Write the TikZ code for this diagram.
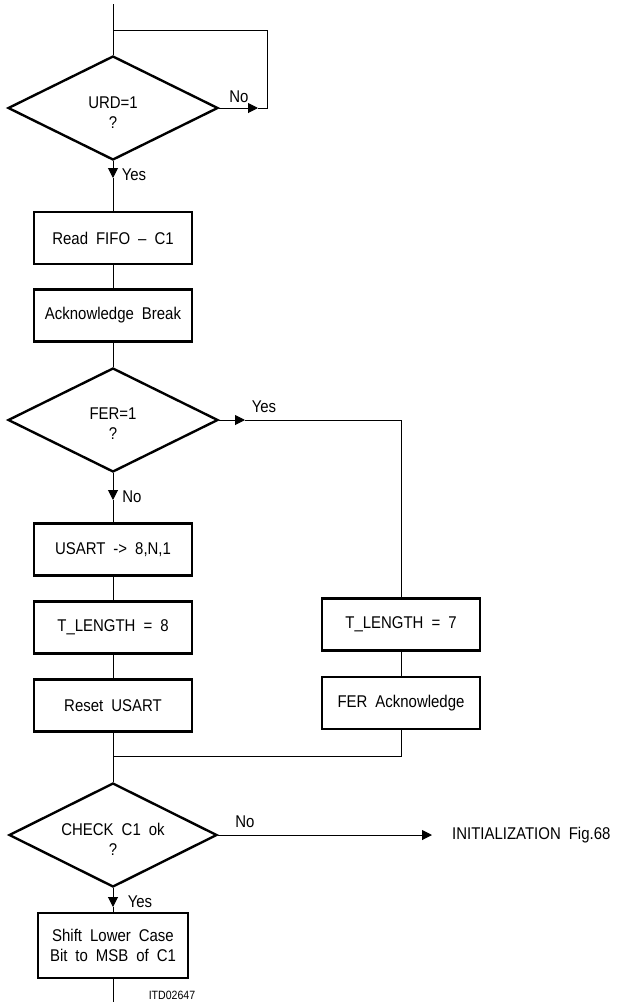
\documentclass[tikz,border=0pt]{standalone}
\usepackage{fontspec}
\setmainfont{Liberation Sans}[FakeStretch=0.88]
\usetikzlibrary{shapes.geometric,arrows.meta}
\newcommand{\myfont}{\fontsize{17}{20}\selectfont\spaceskip 8pt plus 1pt\relax}
\newcommand{\mysmallfont}{\fontsize{12}{14}\selectfont}
\tikzset{
  box/.style={draw, line width=2.4pt, minimum width=158pt, minimum height=52pt, inner sep=0pt, align=center},
  dia/.style={draw, diamond, line width=2.4pt, minimum width=210pt, minimum height=104pt, inner sep=0pt},
  diatext/.style={inner sep=0pt, align=center},
  conn/.style={line width=1pt},
  arr/.style={conn, -{Triangle[length=10pt,width=10pt]}},
  lbl/.style={inner sep=0pt},
}
\begin{document}
\begin{tikzpicture}[x=1pt,y=-1pt, font=\myfont]
\useasboundingbox (0,0) rectangle (622,1002);
% top decision with loop
\coordinate (start) at (113,4);
\coordinate (loopTop) at (113,30);
\node[dia] (d1) at (113,108) {};
\node[diatext] (d1t) at (113,113) {URD=1\\?};
\coordinate (noTip1) at (258,108);
\coordinate (loopBR) at (267,108);
\coordinate (loopTR) at (267,30);
\draw[conn] (start) -- (d1.north);
\draw[arr] (d1.east) -- (noTip1);
\draw[conn] (noTip1) -- (loopBR) -- (loopTR) -- (loopTop);
\node[lbl] (no1) at (239,97) {No};
% yes path
\node[box] (b1) at (113,238) {Read FIFO -- C1};
\node[box] (b2) at (113,315.5) {Acknowledge Break};
\coordinate (yesTip1) at (113,178);
\draw[arr] (d1.south) -- (yesTip1);
\draw[conn] (yesTip1) -- (b1.north);
\node[lbl] (yes1) at (134,175) {Yes};
\draw[conn] (b1.south) -- (b2.north);
% FER decision
\node[dia] (d2) at (113,420) {};
\node[diatext] (d2t) at (113,424) {FER=1\\?};
\draw[conn] (b2.south) -- (d2.north);
\node[box] (u) at (113,549.5) {USART -> 8,N,1};
\node[box] (t8) at (113,627.5) {T\_LENGTH = 8};
\node[box] (rs) at (113,705.5) {Reset USART};
\node[box] (t7) at (401,624.5) {T\_LENGTH = 7};
\node[box] (fa) at (401,703) {FER Acknowledge};
\coordinate (yesTip2) at (245,420);
\coordinate (fCorner) at (401,420);
\draw[arr] (d2.east) -- (yesTip2);
\draw[conn] (yesTip2) -- (fCorner) -- (t7.north);
\node[lbl] (yes2) at (264,407) {Yes};
\coordinate (noTip2) at (113,500);
\draw[arr] (d2.south) -- (noTip2);
\draw[conn] (noTip2) -- (u.north);
\node[lbl] (no2) at (132,497) {No};
\draw[conn] (u.south) -- (t8.north);
\draw[conn] (t8.south) -- (rs.north);
\draw[conn] (t7.south) -- (fa.north);
% join
\coordinate (join) at (113,756);
\coordinate (jR) at (401,756);
\draw[conn] (rs.south) -- (join);
\draw[conn] (fa.south) -- (jR) -- (join);
% CHECK decision
\node[dia, minimum width=208pt] (d3) at (113,835) {};
\node[diatext] (d3t) at (113,839) {CHECK C1 ok\\?};
\draw[conn] (join) -- (d3.north);
\node[lbl, anchor=west] (init) at (452,835) {INITIALIZATION Fig.68};
\draw[arr, shorten >=20pt] (d3.east) -- (init.west);
\node[lbl] (no3) at (245,822) {No};
\node[box, minimum width=150pt, minimum height=65pt] (sh) at (113,945.5) {Shift Lower Case\\Bit to MSB of C1};
\coordinate (yesTip3) at (113,907);
\draw[arr] (d3.south) -- (yesTip3);
\draw[conn] (yesTip3) -- (sh.north);
\node[lbl] (yes3) at (140,902) {Yes};
\coordinate (end) at (113,1002);
\draw[conn] (sh.south) -- (end);
\node[lbl, font=\mysmallfont] (itd) at (172,995) {ITD02647};
\end{tikzpicture}
\end{document}
